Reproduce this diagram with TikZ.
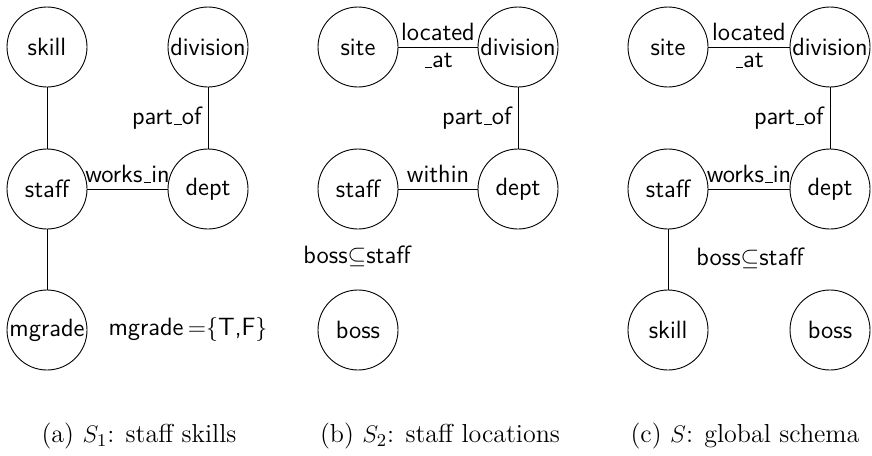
\documentclass[tikz,border=0pt]{standalone}
\usepackage{amssymb}
\newcommand\usc{\leavevmode\kern.06em\vbox{\hrule width.3em}}
\begin{document}
\begin{tikzpicture}[x=0.5pt,y=-0.5pt,
  ent/.style={circle,draw,line width=0.45pt,minimum size=40pt,inner sep=0pt,font=\sffamily\fontsize{12.5}{15}\selectfont},
  lab/.style={font=\sffamily\fontsize{12.5}{15}\selectfont,inner sep=3pt},
  free/.style={font=\sffamily\fontsize{12.5}{15}\selectfont,inner sep=0pt},
  captxt/.style={font=\fontsize{13}{15}\selectfont,inner sep=0pt},
  conn/.style={line width=0.45pt}]
\useasboundingbox (0,0) rectangle (872,455);
% panel a
\node[ent] (a-skill) at (47,47) {skill};
\node[ent] (a-div) at (208,47) {division};
\node[ent] (a-staff) at (47,189) {staff};
\node[ent] (a-dept) at (208,189) {dept};
\node[ent] (a-mg) at (47,330) {mgrade};
\draw[conn] (a-skill) -- (a-staff);
\draw[conn] (a-staff) -- (a-mg);
\draw[conn] (a-div) -- node[lab,left] {part\usc of} (a-dept);
\draw[conn] (a-staff) -- node[lab,above] {works\usc in} (a-dept);
\node[free] (a-dom) at (188,329) {mgrade\,$\mathord{=}\{$T,F$\}$};
\node[captxt] (a-cap) at (139,436) {(a) $S_1$: staff skills};
% panel b
\node[ent] (b-site) at (358,47) {site};
\node[ent] (b-div) at (518,47) {division};
\node[ent] (b-staff) at (358,189) {staff};
\node[ent] (b-dept) at (518,189) {dept};
\node[ent] (b-boss) at (358,330) {boss};
\draw[conn] (b-site) -- node[lab,above] {located} node[lab,below] {\usc at} (b-div);
\draw[conn] (b-div) -- node[lab,left] {part\usc of} (b-dept);
\draw[conn] (b-staff) -- node[lab,above] {within} (b-dept);
\node[free] (b-sub) at (357,256) {boss$\subseteq$staff};
\node[captxt] (b-cap) at (440,436) {(b) $S_2$: staff locations};
% panel c
\node[ent] (c-site) at (668,47) {site};
\node[ent] (c-div) at (830,47) {division};
\node[ent] (c-staff) at (668,189) {staff};
\node[ent] (c-dept) at (830,189) {dept};
\node[ent] (c-skill) at (668,330) {skill};
\node[ent] (c-boss) at (830,330) {boss};
\draw[conn] (c-site) -- node[lab,above] {located} node[lab,below] {\usc at} (c-div);
\draw[conn] (c-div) -- node[lab,left] {part\usc of} (c-dept);
\draw[conn] (c-staff) -- node[lab,above] {works\usc in} (c-dept);
\draw[conn] (c-staff) -- (c-skill);
\node[free] (c-sub) at (750,258) {boss$\subseteq$staff};
\node[captxt] (c-cap) at (745,436) {(c) $S$: global schema};
\end{tikzpicture}
\end{document}
